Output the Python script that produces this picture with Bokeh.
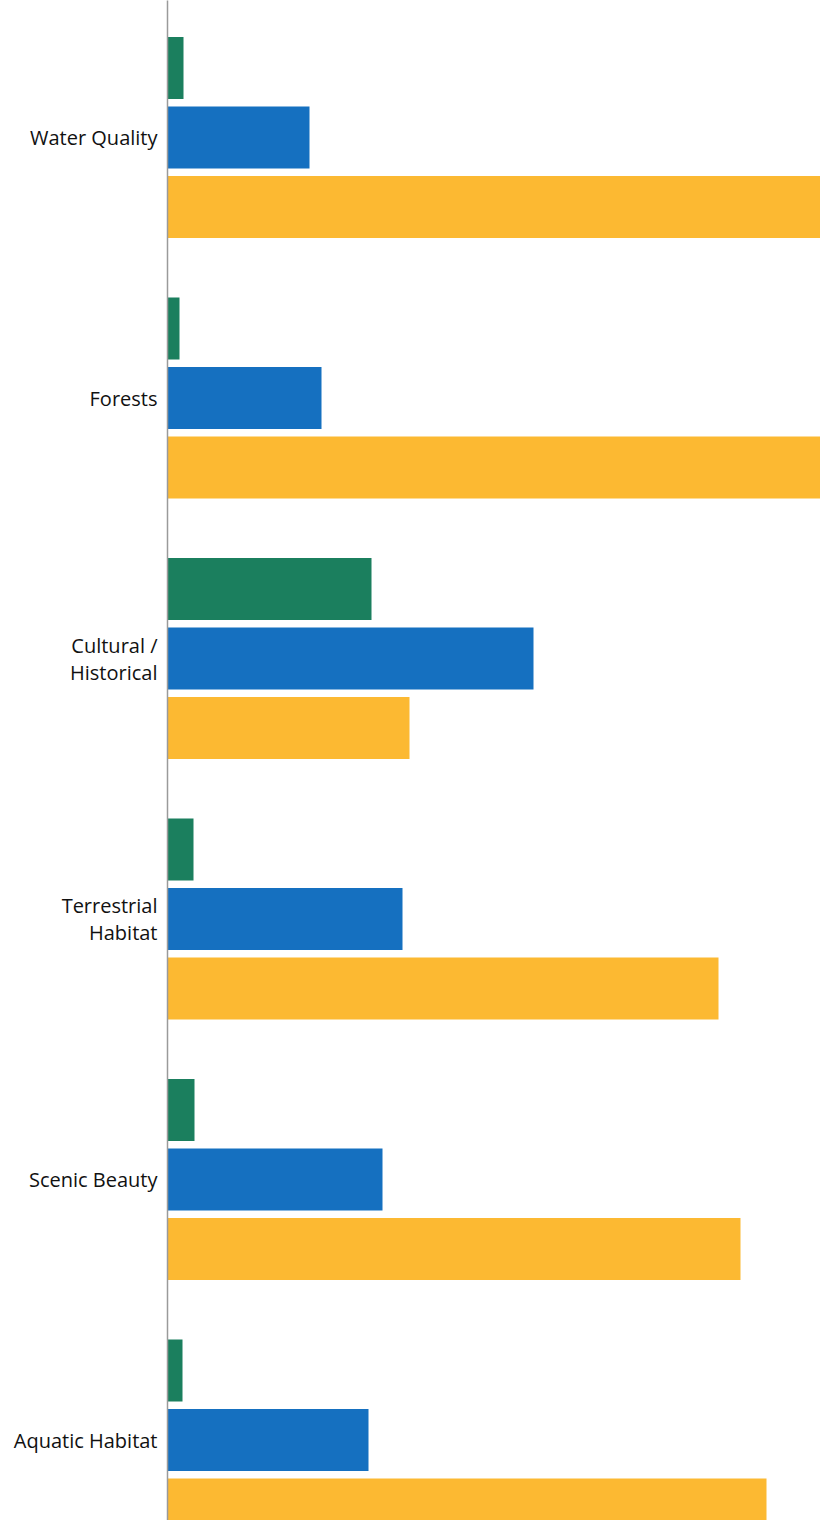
from bokeh.plotting import figure
from bokeh.models import Range1d, FixedTicker, ColumnDataSource
from bokeh.embed import file_html
from bokeh.resources import INLINE

categories = ["Water Quality", "Forests", "Cultural /\nHistorical",
              "Terrestrial\nHabitat", "Scenic Beauty", "Aquatic Habitat"]
green_vals = [1.6, 1.2, 20.4, 2.6, 2.7, 1.5]
blue_vals = [14.2, 15.4, 36.6, 23.5, 21.5, 20.1]
orange_vals = [70.0, 70.0, 24.2, 55.1, 57.3, 59.9]

colors = {"green": "#1b7f5e", "blue": "#1570c0", "orange": "#fcb932"}

idx = list(range(len(categories)))
offset = 0.267
bar_h = 0.238

p = figure(width=820, height=1520, output_backend="svg", toolbar_location=None,
           x_range=Range1d(0, 65.3), y_range=Range1d(5.309, -0.526),
           min_border_left=167, min_border_right=0, min_border_top=0, min_border_bottom=0)

src = ColumnDataSource(dict(
    y=idx,
    yg=[i - offset for i in idx],
    yo=[i + offset for i in idx],
    g=green_vals, b=blue_vals, o=orange_vals))

p.hbar(y="yg", left=0, right="g", height=bar_h, color=colors["green"], source=src, line_color=None)
p.hbar(y="y", left=0, right="b", height=bar_h, color=colors["blue"], source=src, line_color=None)
p.hbar(y="yo", left=0, right="o", height=bar_h, color=colors["orange"], source=src, line_color=None)

p.xaxis.visible = False
p.xgrid.visible = False
p.ygrid.visible = False
p.outline_line_color = None

ax = p.yaxis[0]
ax.ticker = FixedTicker(ticks=idx)
ax.major_label_overrides = {i: c for i, c in zip(idx, categories)}
ax.major_tick_line_color = None
ax.minor_tick_line_color = None
ax.axis_line_color = "#9a9a9a"
ax.axis_line_width = 1.5
ax.major_label_text_font = "Open Sans"
ax.major_label_text_font_size = "20px"
ax.major_label_text_color = "#111111"
ax.major_label_text_line_height = 1.0
ax.major_label_standoff = 4

open("out.html", "w").write(file_html(p, INLINE))
